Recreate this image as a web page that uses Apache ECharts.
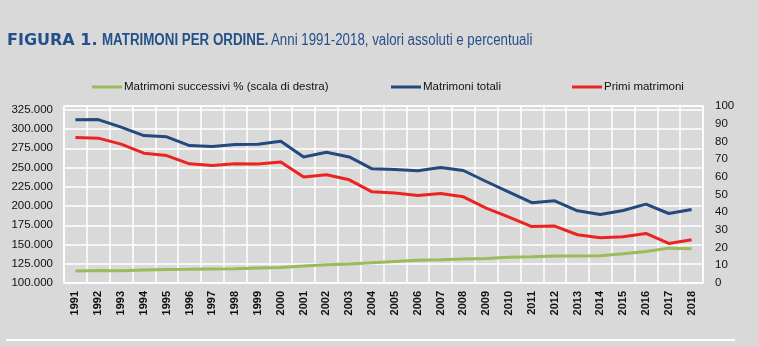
<!DOCTYPE html>
<html>
<head>
<meta charset="utf-8">
<script src="https://cdn.jsdelivr.net/npm/echarts@6/dist/echarts.min.js"></script>
<style>
html,body{margin:0;padding:0;background:#d9d9d9;}
#c{width:758px;height:346px;}
</style>
</head>
<body>
<div id="c"></div>
<script>
var years = ['1991','1992','1993','1994','1995','1996','1997','1998','1999','2000','2001','2002','2003','2004','2005','2006','2007','2008','2009','2010','2011','2012','2013','2014','2015','2016','2017','2018'];
var matrimoniTotali = [312000, 312300, 302500, 291600, 290000, 278600, 277500, 280000, 280400, 284300, 263800, 270000, 263800, 248400, 247500, 245800, 250100, 246200, 231900, 218100, 204300, 206800, 193800, 189000, 194200, 202500, 190300, 195500];
var primiMatrimoni = [289000, 288200, 280400, 268700, 265600, 254900, 252700, 254900, 254500, 257100, 237600, 240600, 234100, 218500, 216800, 213700, 216300, 212000, 197400, 185700, 173300, 174000, 162700, 158800, 160100, 164400, 151400, 156200];
var successiviPct = [6.8, 7.0, 6.9, 7.3, 7.6, 7.7, 7.9, 8.1, 8.5, 8.8, 9.6, 10.3, 10.7, 11.5, 12.2, 12.8, 13.1, 13.5, 13.9, 14.5, 14.8, 15.2, 15.2, 15.4, 16.5, 17.8, 19.7, 19.4];

var titleParts = ['FIGURA 1.', 'MATRIMONI PER ORDINE.', 'Anni 1991-2018, valori assoluti e percentuali'];
var nGreen = 'Matrimoni successivi % (scala di destra)';
var nBlue = 'Matrimoni totali';
var nRed = 'Primi matrimoni';

var sans = "'Liberation Sans', Arial, sans-serif";
var titleColor = '#24508a';

function fmt(v){ return String(v).replace(/\B(?=(\d{3})+(?!\d))/g, '.'); }

var chart = echarts.init(document.getElementById('c'), null, {renderer:'canvas'});
var legendBase = {
  top: 76, itemWidth: 30, itemHeight: 3, icon: 'rect', itemGap: 0,
  textStyle: {fontFamily: sans, fontSize: 11.5, color: '#111', padding: [0,0,0,-3]}
};
chart.setOption({
  backgroundColor: '#d9d9d9',
  animation: false,
  legend: [
    Object.assign({}, legendBase, {left: 87, data: [nGreen]}),
    Object.assign({}, legendBase, {left: 386, data: [nBlue]}),
    Object.assign({}, legendBase, {left: 567, data: [nRed]})
  ],
  grid: {
    left: 64, right: 55, top: 106, bottom: 63,
    show: true, borderColor: '#ffffff', borderWidth: 1.5, backgroundColor: 'transparent'
  },
  xAxis: {
    type: 'category', data: years, boundaryGap: true,
    axisLine: {show: false}, axisTick: {show: false},
    axisLabel: {rotate: 90, interval: 0, margin: 8, fontFamily: sans, fontWeight: 'bold', fontSize: 11, color: '#111'},
    splitLine: {show: true, interval: 0, lineStyle: {color: '#ffffff', width: 1.5}}
  },
  yAxis: [
    {
      type: 'value', min: 100000, max: 330000, interval: 25000, position: 'left',
      axisLine: {show: false}, axisTick: {show: false},
      axisLabel: {fontFamily: sans, fontSize: 11.5, color: '#111', margin: 11,
        formatter: function(v){ return v > 325000 ? '' : fmt(v); }},
      splitLine: {show: true, lineStyle: {color: '#ffffff', width: 1.5}}
    },
    {
      type: 'value', min: 0, max: 100, interval: 10, position: 'right',
      axisLine: {show: false}, axisTick: {show: false},
      axisLabel: {fontFamily: sans, fontSize: 11.5, color: '#111', margin: 12, align: 'left'},
      splitLine: {show: false}
    }
  ],
  series: [
    {name: nGreen, type: 'line', yAxisIndex: 1, data: successiviPct, showSymbol: false, symbol: 'none',
      lineStyle: {color: '#9bbb59', width: 3}, itemStyle: {color: '#9bbb59'}},
    {name: nBlue, type: 'line', yAxisIndex: 0, data: matrimoniTotali, showSymbol: false, symbol: 'none',
      lineStyle: {color: '#23497f', width: 3}, itemStyle: {color: '#23497f'}},
    {name: nRed, type: 'line', yAxisIndex: 0, data: primiMatrimoni, showSymbol: false, symbol: 'none',
      lineStyle: {color: '#ec2421', width: 3}, itemStyle: {color: '#ec2421'}}
  ],
  graphic: [
    {type: 'text', x: 7, y: 41, style: {text: titleParts[0], fill: titleColor, font: "bold 16px 'DejaVu Sans', sans-serif", textVerticalAlign: 'middle'}},
    {type: 'text', x: 102, y: 41, scaleX: 0.834, style: {text: titleParts[1], fill: titleColor, font: "bold 16px 'Liberation Sans', sans-serif", textVerticalAlign: 'middle'}},
    {type: 'text', x: 271, y: 41, scaleX: 0.83, style: {text: titleParts[2], fill: titleColor, font: "16px 'Liberation Sans', sans-serif", textVerticalAlign: 'middle'}},
    {type: 'line', shape: {x1: 6, y1: 340, x2: 735, y2: 340}, style: {stroke: '#ffffff', lineWidth: 2}}
  ]
});
</script>
</body>
</html>
